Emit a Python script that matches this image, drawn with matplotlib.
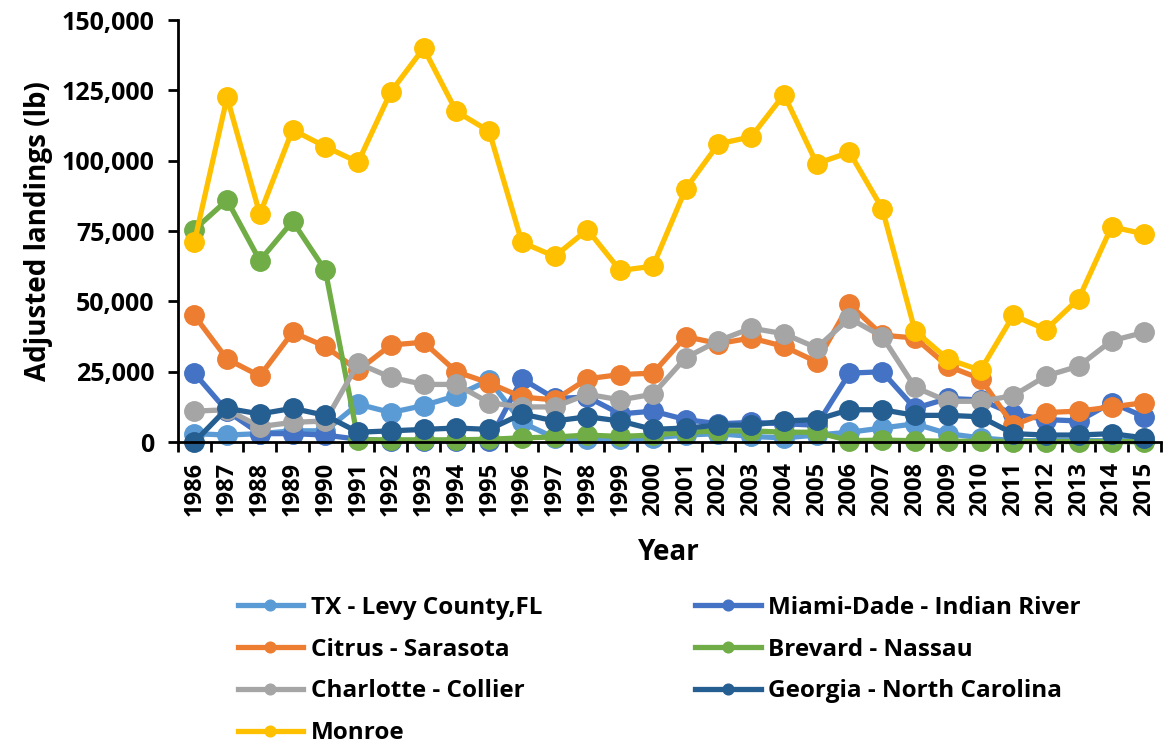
import matplotlib
matplotlib.use("Agg")
import matplotlib.pyplot as plt
from matplotlib.ticker import FuncFormatter, MultipleLocator

plt.rcParams['font.family'] = ['Open Sans', 'DejaVu Sans']
plt.rcParams['font.weight'] = 'bold'

# Data
years = list(range(1986, 2016))

tx_levy = [3000, 2500, 3000, 4000, 4000, 13500, 10500, 13000, 16500, 22000,
           7000, 1500, 1000, 1000, 1500, 2500, 3000, 2000, 1500, 2500,
           3500, 5000, 6500, 3000, 1500, 500, 500, 500, 500, 500]
miami_indian = [24500, 11000, 3000, 3000, 2500, 1000, 500, 500, 500, 500,
                22500, 15500, 16000, 10000, 11000, 8000, 6500, 7000, 6500, 6000,
                24500, 25000, 12000, 15500, 15000, 10000, 8000, 7500, 14000, 9000]
citrus_sarasota = [45000, 29500, 23500, 39000, 34000, 25500, 34500, 35500, 25000, 21000,
                   16000, 15000, 22500, 24000, 24500, 37500, 35000, 37000, 34000, 28500,
                   49000, 38000, 37000, 27000, 22500, 6000, 10500, 11000, 12500, 14000]
brevard_nassau = [75500, 86000, 64500, 78500, 61000, 800, 800, 800, 800, 1000,
                  1500, 1800, 2500, 2000, 2500, 3500, 4000, 4000, 3500, 3500,
                  500, 700, 500, 300, 300, 200, 200, 200, 200, 100]
charlotte_collier = [11000, 11500, 5500, 7000, 7500, 28000, 23000, 20500, 20500, 14000,
                     12500, 12500, 17000, 15000, 17000, 30000, 36000, 40500, 38500, 33500,
                     44000, 37500, 19500, 14500, 14500, 16500, 23500, 27000, 36000, 39000]
georgia_nc = [0, 12000, 10000, 12000, 9500, 3500, 4000, 4500, 5000, 4500,
              10000, 7500, 9000, 7500, 4500, 5000, 6000, 6000, 7500, 8000,
              11500, 11500, 9500, 9500, 9000, 3000, 2500, 2500, 3000, 1500]
monroe = [71000, 122500, 81000, 111000, 105000, 99500, 124500, 140000, 117500, 110500,
          71000, 66000, 75500, 61000, 62500, 90000, 106000, 108500, 123500, 99000,
          103000, 83000, 39500, 29500, 25500, 45000, 40000, 51000, 76500, 74000]

series = [
    ("TX - Levy County,FL", tx_levy, "#5B9BD5"),
    ("Miami-Dade - Indian River", miami_indian, "#4472C4"),
    ("Citrus - Sarasota", citrus_sarasota, "#ED7D31"),
    ("Brevard - Nassau", brevard_nassau, "#70AD47"),
    ("Charlotte - Collier", charlotte_collier, "#A5A5A5"),
    ("Georgia - North Carolina", georgia_nc, "#255E91"),
    ("Monroe", monroe, "#FFC000"),
]

fig = plt.figure(figsize=(11.63, 7.43), dpi=100)
ax = fig.add_axes([0.153, 0.405, 0.845, 0.568])

handles = {}
for name, vals, col in series:
    h, = ax.plot(years, vals, color=col, linewidth=3.8, marker='o',
                 markersize=14, label=name, clip_on=False)
    handles[name] = h

ax.set_xlim(1985.5, 2015.5)
ax.set_ylim(0, 150000)
ax.yaxis.set_major_locator(MultipleLocator(25000))
ax.yaxis.set_major_formatter(FuncFormatter(lambda v, p: f"{int(v):,}"))

# year labels at category centres, tick marks between categories
ax.set_xticks([y - 0.5 for y in years] + [2015.5])
ax.set_xticklabels([])
ax.set_xticks(years, minor=True)
ax.set_xticklabels([str(y) for y in years], minor=True, rotation=90,
                   fontsize=17, fontweight='bold')
ax.tick_params(axis='x', which='minor', length=0, pad=14)
ax.tick_params(axis='x', which='major', length=7, width=2, direction='out')
ax.tick_params(axis='y', length=7, width=2, direction='out', labelsize=18, pad=10)
for lab in ax.get_yticklabels():
    lab.set_fontweight('bold')

for s in ['top', 'right']:
    ax.spines[s].set_visible(False)
for s in ['left', 'bottom']:
    ax.spines[s].set_linewidth(2)
    ax.spines[s].set_color('black')

ax.set_ylabel("Adjusted landings (lb)", fontsize=20, fontweight='bold', labelpad=6)
ax.set_xlabel("Year", fontsize=20, fontweight='bold', labelpad=16)

order = ["TX - Levy County,FL", "Citrus - Sarasota", "Charlotte - Collier", "Monroe",
         "Miami-Dade - Indian River", "Brevard - Nassau", "Georgia - North Carolina"]
leg = fig.legend([handles[n] for n in order], order, ncol=2, loc='upper left',
                 bbox_to_anchor=(0.196, 0.211), frameon=False, handlelength=2.7,
                 handletextpad=0.3, columnspacing=6.3, labelspacing=0.73,
                 markerscale=0.55, borderaxespad=0.2, borderpad=0.2,
                 prop={'family': ['Open Sans', 'DejaVu Sans'],
                       'weight': 'bold', 'size': 17.5})

fig.savefig("out.png", dpi=100)
